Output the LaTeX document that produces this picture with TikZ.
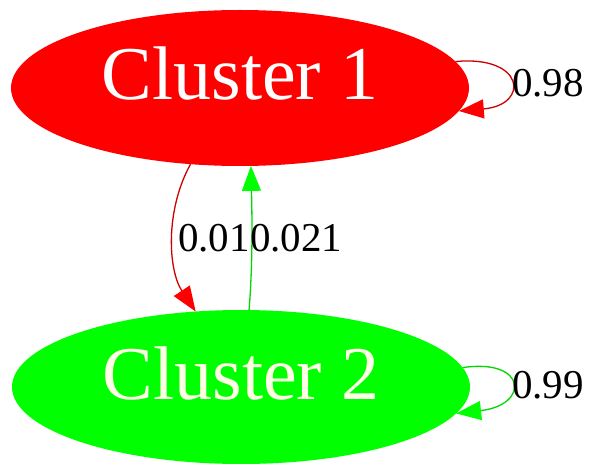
\documentclass[tikz,border=0pt]{standalone}
\usepackage{fontspec}
\setmainfont{Liberation Serif}
\usetikzlibrary{arrows.meta,shapes.geometric}
\begin{document}
\begin{tikzpicture}[x=1pt,y=-1pt,
  cluster/.style={ellipse, inner sep=0pt, outer sep=0pt, minimum width=458pt,
    text=white, font=\fontsize{76}{80}\selectfont, text height=51pt, text depth=27pt},
  elabel/.style={font=\fontsize{41}{45}\selectfont, inner sep=0pt, text=black},
  redline/.style={draw=red!80!black, line width=1.3pt,
    -{Triangle[length=25pt,width=19pt,color=red]}},
  greenline/.style={draw=green!85!black, line width=1.3pt,
    -{Triangle[length=25pt,width=19pt,color=green]}}]
\fill[white] (0,0) rectangle (589,470);
\useasboundingbox (0,0) rectangle (589,470);
\node[cluster, fill=red, minimum height=156pt] (c1) at (240,88) {Cluster 1};
\node[cluster, fill=green, minimum height=154pt, text=white!90!yellow] (c2) at (241,387) {Cluster 2};
% edges between clusters
\draw[redline] (c1.237) .. controls (165,210) and (168,270) .. (c2.121);
\draw[greenline] (c2.84) .. controls (253,260) and (252,215) .. (c1.278);
% self loops
\draw[redline] (c1.7) .. controls (525,55) and (530,105) .. (c1.354);
\draw[greenline] (c2.5) .. controls (527,358) and (530,405) .. (c2.353);
% labels
\node[elabel, anchor=east] (l12) at (250,238) {0.01};
\node[elabel, anchor=west] (l21) at (250,238) {0.021};
\node[elabel, anchor=west] (l11) at (512,83) {0.98};
\node[elabel, anchor=west] (l22) at (512,385) {0.99};
\end{tikzpicture}
\end{document}
